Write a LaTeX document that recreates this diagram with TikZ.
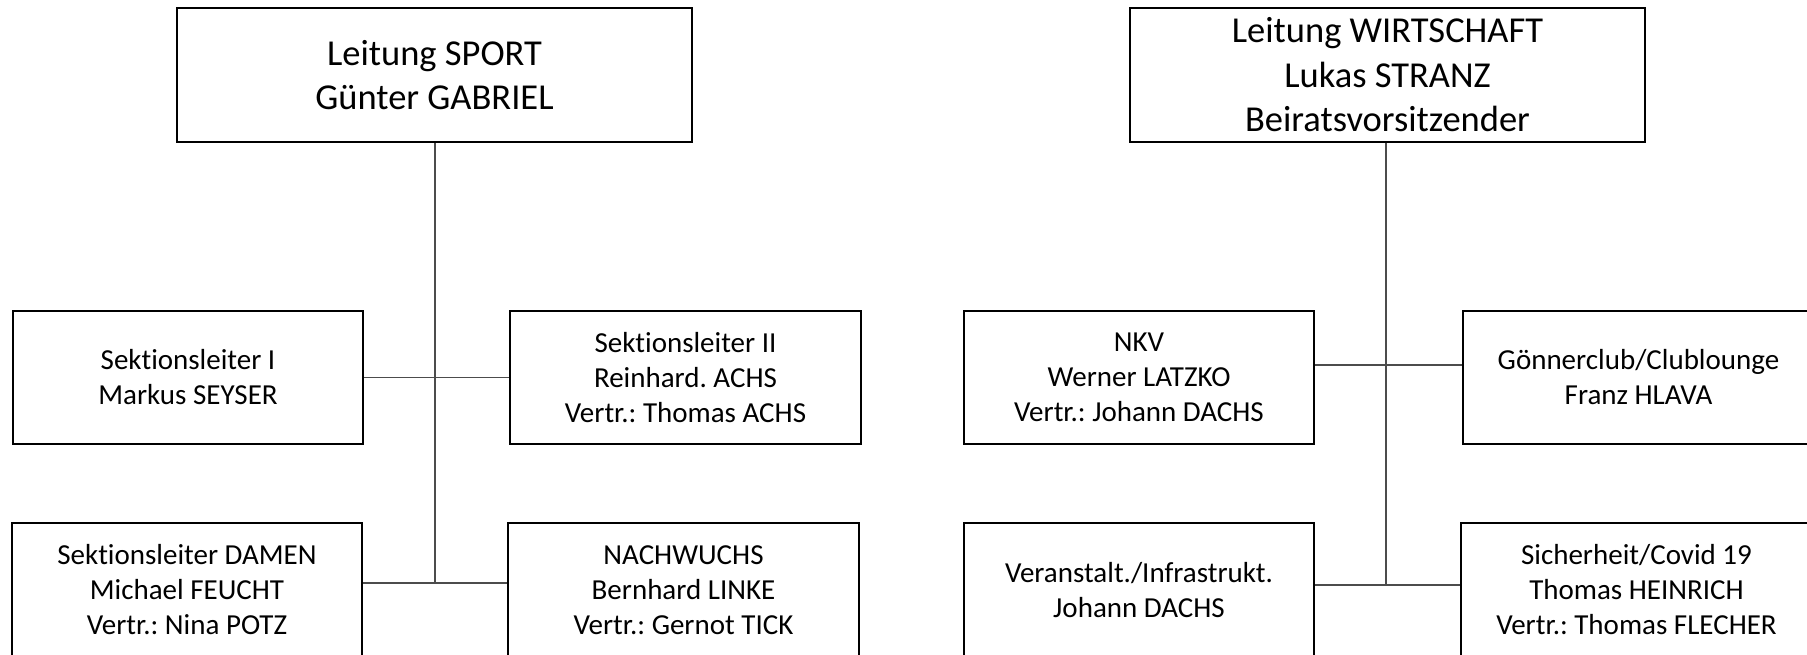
\documentclass[tikz,border=0pt]{standalone}
\usepackage{fontspec}
\setmainfont{Carlito}[RawFeature={-liga;-clig;-dlig}]
\frenchspacing
\begin{document}
\begin{tikzpicture}[x=1pt,y=-1pt,
  bigbox/.style={draw=black,line width=2.6pt,fill=white,inner sep=0pt,align=center,
    minimum width=515pt,minimum height=134pt,font=\fontsize{36.5}{44.5}\selectfont},
  smallbox/.style={draw=black,line width=2.6pt,fill=white,inner sep=0pt,align=center,
    minimum width=350pt,minimum height=133pt,font=\fontsize{29}{35}\selectfont},
  conn/.style={draw=black!70,line width=1.5pt}]
\useasboundingbox (0,0) rectangle (1807,654);
\clip (0,0) rectangle (1807,654);
\fill[white] (0,0) rectangle (1807,654);
% left tree
\node[bigbox] (tl) at (434.5,75) {Leitung SPORT\\Günter GABRIEL};
\node[smallbox] (s1) at (188,377.5) {Sekt\kern0ptionsleiter I\\Markus SEYSER};
\node[smallbox,minimum width=351pt] (s2) at (685.5,377.5) {Sekt\kern0ptionsleiter II\\Reinhard. ACHS\\Vertr.: Thomas ACHS};
\node[smallbox,minimum height=134pt] (da) at (187,590) {Sekt\kern0ptionsleiter DAMEN\\Michael FEUCHT\\Vertr.: Nina POTZ};
\node[smallbox,minimum width=351pt,minimum height=134pt] (nw) at (683.5,590) {NACHWUCHS\\Bernhard LINKE\\Vertr.: Gernot TICK};
\coordinate (jl) at (435,583);
% right tree
\node[bigbox] (tr) at (1387.5,75) {Leitung WIRTSCHAFT\\Lukas STRANZ\\Beiratsvorsitzender};
\node[smallbox] (nkv) at (1139,377.5) {NKV\\Werner LATZKO\\Vertr.: Johann DACHS};
\node[smallbox,minimum width=351pt] (gc) at (1638.5,377.5) {Gönnerclub/Clublounge\\Franz HLAVA};
\node[smallbox,minimum height=134pt] (va) at (1139,590) {Veranstalt./Infrastrukt.\\Johann DACHS};
\node[smallbox,minimum width=351pt,minimum height=134pt] (si) at (1636.5,590) {Sicherheit/Covid 19\\Thomas HEINRICH\\Vertr.: Thomas FLECHER};
\coordinate (jr) at (1386,585);
% connectors
\draw[conn] ([xshift=0.5pt]tl.south) -- (jl);
\draw[conn] (s1.east) -- (s2.west);
\draw[conn] (da.east |- jl) -- (nw.west |- jl);
\draw[conn] ([xshift=-1.5pt]tr.south) -- (jr);
\draw[conn] ([yshift=12.5pt]nkv.east) -- ([yshift=12.5pt]gc.west);
\draw[conn] (va.east |- jr) -- (si.west |- jr);
\end{tikzpicture}
\end{document}
